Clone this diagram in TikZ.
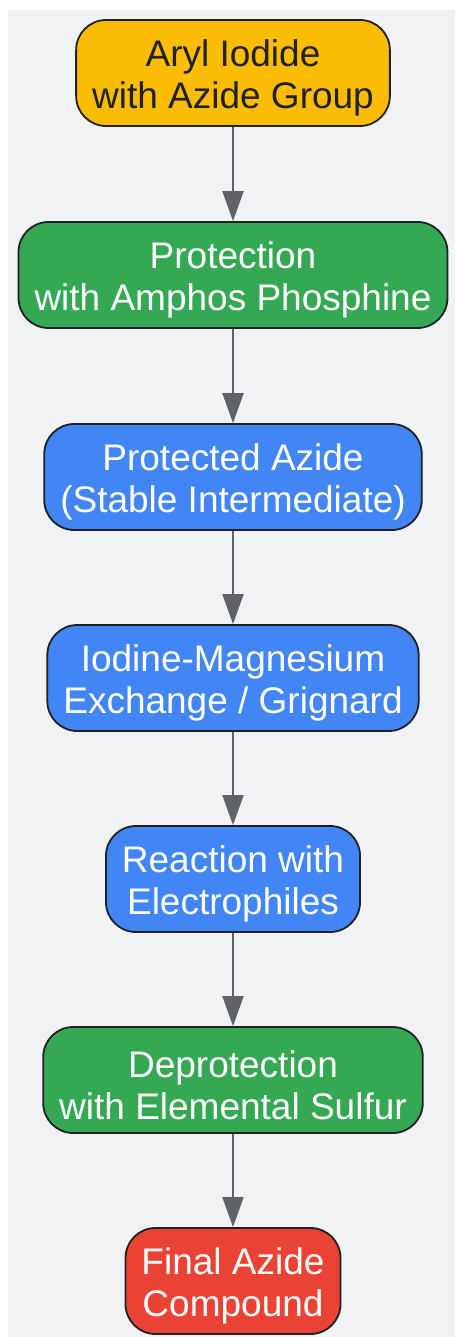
\documentclass[tikz,border=0pt]{standalone}
\usepackage{fontspec}
\setmainfont{Liberation Sans}
\usetikzlibrary{arrows.meta}
\definecolor{bgGray}{HTML}{F1F2F4}
\definecolor{stepYellow}{HTML}{FBBC04}
\definecolor{stepGreen}{HTML}{34A853}
\definecolor{stepBlue}{HTML}{4285F4}
\definecolor{stepRed}{HTML}{EA4335}
\definecolor{edgeGray}{HTML}{5F6368}
\definecolor{inkDark}{HTML}{202124}
\newcommand{\topgap}{\rule{0pt}{37pt}}
\begin{document}
\begin{tikzpicture}
	[	x=1pt,y=-1pt,
	stepbox/.style={rectangle,rounded corners=30pt,draw=inkDark,line width=1.8pt,
		minimum height=106pt,inner xsep=16pt,align=center,text=white,
		font=\fontsize{37}{42}\selectfont},
	flow/.style={-{Triangle[length=30pt,width=21pt]},draw=edgeGray,line width=2pt}
	]
	\useasboundingbox (0,0) rectangle (455,1337);
	\fill[bgGray] (8,10) rectangle (455,1337);

	\node[stepbox,fill=stepYellow,text=inkDark] (aryl) at (233,73){\topgap Aryl Iodide\\with Azide Group};
	\node[stepbox,fill=stepGreen] (protect) at (233,275){\topgap Protection\\with Amphos Phosphine};
	\node[stepbox,fill=stepBlue] (azide) at (233,477){\topgap Protected Azide\\(Stable Intermediate)};
	\node[stepbox,fill=stepBlue] (grignard) at (233,678){\topgap Iodine-Magnesium\\Exchange / Grignard};
	\node[stepbox,fill=stepBlue] (electro) at (233,879){\topgap Reaction with\\Electrophiles};
	\node[stepbox,fill=stepGreen] (deprotect) at (233,1080){\topgap Deprotection\\with Elemental Sulfur};
	\node[stepbox,fill=stepRed] (final) at (233,1281){\topgap Final Azide\\Compound};

	\draw[flow] (aryl) -- (protect);
	\draw[flow] (protect) -- (azide);
	\draw[flow] (azide) -- (grignard);
	\draw[flow] (grignard) -- (electro);
	\draw[flow] (electro) -- (deprotect);
	\draw[flow] (deprotect) -- (final);
\end{tikzpicture}
\end{document}
